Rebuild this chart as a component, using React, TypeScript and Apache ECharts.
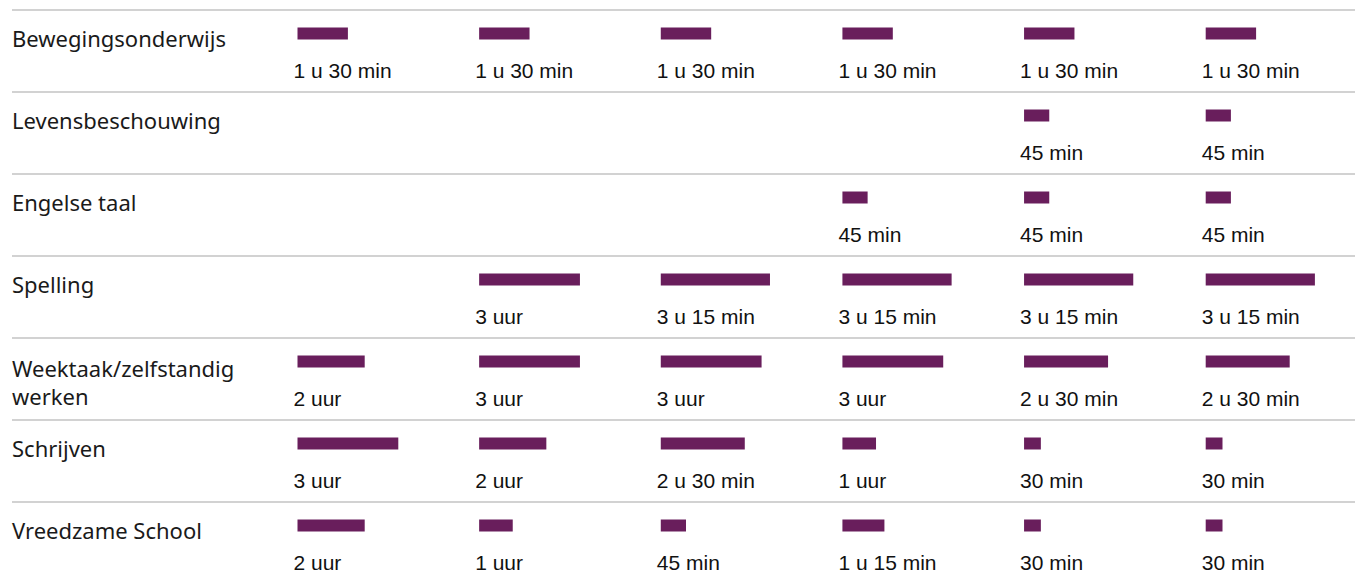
import React, { useEffect, useRef } from 'react';
import * as echarts from 'echarts';

// Categories (rows) and columns
const subjects = [
  'Bewegingsonderwijs',
  'Levensbeschouwing',
  'Engelse taal',
  'Spelling',
  'Weektaak/zelfstandig werken',
  'Schrijven',
  'Vreedzame School',
];
const columns = ['Kolom 1', 'Kolom 2', 'Kolom 3', 'Kolom 4', 'Kolom 5', 'Kolom 6'];

// Minutes per week, per subject, per column (null = not taught)
const bewegingsonderwijs = [90, 90, 90, 90, 90, 90];
const levensbeschouwing = [null, null, null, null, 45, 45];
const engelseTaal = [null, null, null, 45, 45, 45];
const spelling = [null, 180, 195, 195, 195, 195];
const weektaak = [120, 180, 180, 180, 150, 150];
const schrijven = [180, 120, 150, 60, 30, 30];
const vreedzameSchool = [120, 60, 45, 75, 30, 30];

const rows = [bewegingsonderwijs, levensbeschouwing, engelseTaal, spelling, weektaak, schrijven, vreedzameSchool];

const formatMinutes = (m: number): string => {
  const h = Math.floor(m / 60);
  const mm = m % 60;
  if (h === 0) return `${mm} min`;
  if (mm === 0) return `${h} uur`;
  return `${h} u ${mm} min`;
};

// layout
const ROW_H = 82;
const FIRST_CENTER = 33.5;
const COL0 = 297.5;
const COL_STEP = 181.64;
const COL_W = 168;
const X_MAX = 300;
const BAR_COLOR = '#691e5c';
const CAT_FONT = '"Noto Sans", "Open Sans", sans-serif';
const CAT_SIZE = 22;
const CAT_COLOR = '#1a1a1a';

export default function App() {
  const ref = useRef<HTMLDivElement>(null);
  useEffect(() => {
    if (!ref.current) return;
    const chart = echarts.init(ref.current, undefined, { renderer: 'svg' });
    const gridTop = FIRST_CENTER - ROW_H / 2;
    const gridH = ROW_H * subjects.length;

    const grids: any[] = [];
    const xAxes: any[] = [];
    const yAxes: any[] = [];
    const series: any[] = [];

    columns.forEach((col, i) => {
      grids.push({ left: COL0 + i * COL_STEP, top: gridTop, width: COL_W, height: gridH, outerBoundsMode: 'none', containLabel: false });
      xAxes.push({ type: 'value', gridIndex: i, min: 0, max: X_MAX, show: false });
      yAxes.push({ type: 'category', gridIndex: i, data: subjects, inverse: true, show: false });
      series.push({
        type: 'bar',
        name: col,
        xAxisIndex: i,
        yAxisIndex: i,
        barWidth: 12,
        itemStyle: { color: BAR_COLOR },
        data: rows.map((r) => (r[i] == null ? '-' : r[i])),
        label: {
          show: true,
          position: [-4, 43],
          align: 'left',
          verticalAlign: 'middle',
          fontSize: 21,
          fontFamily: '"Liberation Sans", Arial, sans-serif',
          color: '#111',
          formatter: (p: any) => formatMinutes(p.value as number),
        },
      });
    });

    // category labels grid
    const labelIdx = columns.length;
    grids.push({ left: 12, top: gridTop, width: 10, height: gridH, outerBoundsMode: 'none', containLabel: false });
    xAxes.push({ type: 'value', gridIndex: labelIdx, min: 0, max: 1, show: false });
    yAxes.push({
      type: 'category',
      gridIndex: labelIdx,
      inverse: true,
      data: subjects.map((s) =>
        s.length > 22
          ? { value: s, textStyle: { verticalAlign: 'top', padding: 0 } }
          : s
      ),
      axisLine: { show: false },
      axisTick: { show: false },
      splitLine: { show: false },
      axisLabel: {
        inside: true,
        margin: 0,
        align: 'left',
        padding: [8, 0, 0, 0],
        fontSize: CAT_SIZE,
        fontFamily: CAT_FONT,
        color: CAT_COLOR,
        formatter: (v: string) => {
          if (v.length > 22) {
            const k = v.lastIndexOf(' ');
            return `{a|${v.slice(0, k)}}\n{b|${v.slice(k + 1)}}`;
          }
          return v;
        },
        rich: {
          a: { lineHeight: 12, fontSize: CAT_SIZE, fontFamily: CAT_FONT, color: CAT_COLOR },
          b: { lineHeight: 44, fontSize: CAT_SIZE, fontFamily: CAT_FONT, color: CAT_COLOR },
        },
      },
    });

    // separators grid
    const sepIdx = columns.length + 1;
    grids.push({ left: 12, right: 0, top: 10, height: gridH, outerBoundsMode: 'none', containLabel: false });
    xAxes.push({ type: 'value', gridIndex: sepIdx, min: 0, max: 1, show: false });
    yAxes.push({
      type: 'category',
      gridIndex: sepIdx,
      inverse: true,
      data: subjects,
      axisLine: { show: false },
      axisTick: { show: false },
      axisLabel: { show: false },
      splitLine: { show: true, lineStyle: { color: '#d2d2d2', width: 2 } },
    });

    chart.setOption({
      animation: false,
      backgroundColor: '#fff',
      grid: grids,
      xAxis: xAxes,
      yAxis: yAxes,
      series,
    });
    return () => chart.dispose();
  }, []);
  return <div ref={ref} style={{ position: 'fixed', left: 0, top: 0, width: 1355, height: 577 }} />;
}
